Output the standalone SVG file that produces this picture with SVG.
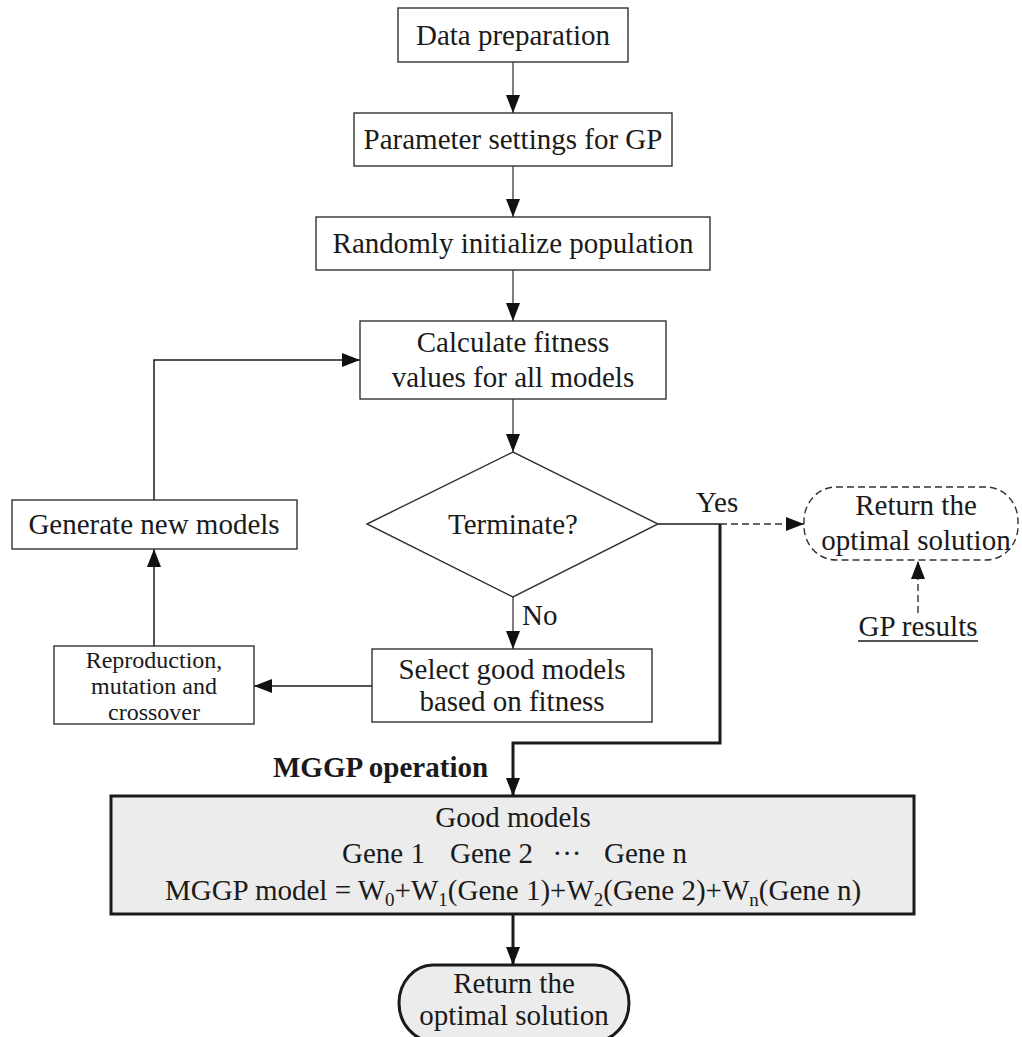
<svg xmlns="http://www.w3.org/2000/svg" width="1022" height="1037" viewBox="0 0 1022 1037">
<style>
text{font-family:"Liberation Serif","Times New Roman",serif;font-size:29px;fill:#1a1a1a;text-anchor:middle}
.box{fill:#fff;stroke:#333;stroke-width:1.4}
.gbox{fill:#ececec;stroke:#1a1a1a;stroke-width:3}
.ln{fill:none;stroke:#555;stroke-width:1.5}
.lk{fill:none;stroke:#1a1a1a;stroke-width:1.5}
.thk{fill:none;stroke:#1a1a1a;stroke-width:3}
.dash{fill:none;stroke:#333;stroke-width:1.4;stroke-dasharray:7 4}
.sm{font-size:24px}
</style>
<defs>
<marker id="ah" markerUnits="userSpaceOnUse" markerWidth="18" markerHeight="14" refX="18" refY="7" orient="auto">
<path d="M0,0 L18,7 L0,14 z" fill="#111"/>
</marker>
</defs>
<g id="connectors">
<path class="ln" d="M513,62 V113" marker-end="url(#ah)"/>
<path class="ln" d="M513,166 V217" marker-end="url(#ah)"/>
<path class="ln" d="M513,270 V321" marker-end="url(#ah)"/>
<path class="ln" d="M513,399 V452" marker-end="url(#ah)"/>
<path class="ln" d="M513,597 V649" marker-end="url(#ah)"/>
<path class="lk" d="M372,686 H254" marker-end="url(#ah)"/>
<path class="lk" d="M154,646 V549" marker-end="url(#ah)"/>
<path class="lk" d="M154,500 V360 H360" marker-end="url(#ah)"/>
<path class="lk" d="M658,524 H720"/>
<path class="dash" d="M720,524 H804" marker-end="url(#ah)"/>
<path class="dash" d="M918,613 V561" marker-end="url(#ah)"/>
<path class="thk" d="M720,524 V743 H513 V796" marker-end="url(#ah)"/>
<path class="thk" d="M513,914 V965" marker-end="url(#ah)"/>
<text x="522" y="625" style="text-anchor:start">No</text>
<text x="696" y="512" style="text-anchor:start">Yes</text>
<text x="273" y="777" style="text-anchor:start;font-weight:bold">MGGP operation</text>
</g>
<g id="data-preparation">
<rect class="box" x="398" y="8" width="230" height="54"/>
<text x="513" y="45">Data preparation</text>
</g>
<g id="parameter-settings">
<rect class="box" x="354" y="113" width="318" height="53"/>
<text x="513" y="149">Parameter settings for GP</text>
</g>
<g id="random-init">
<rect class="box" x="316" y="217" width="394" height="53"/>
<text x="513" y="253">Randomly initialize population</text>
</g>
<g id="calc-fitness">
<rect class="box" x="360" y="321" width="306" height="78"/>
<text x="513" y="352">Calculate fitness</text>
<text x="513" y="387">values for all models</text>
</g>
<g id="terminate">
<path class="box" d="M367,524 L513,452 L658,524 L513,597 Z"/>
<text x="513" y="534">Terminate?</text>
</g>
<g id="generate">
<rect class="box" x="12" y="500" width="285" height="49"/>
<text x="154" y="534">Generate new models</text>
</g>
<g id="reproduction">
<rect class="box" x="54" y="646" width="200" height="78"/>
<text class="sm" x="154" y="668">Reproduction,</text>
<text class="sm" x="154" y="694">mutation and</text>
<text class="sm" x="154" y="720">crossover</text>
</g>
<g id="select">
<rect class="box" x="372" y="649" width="280" height="73"/>
<text x="512" y="679">Select good models</text>
<text x="512" y="711">based on fitness</text>
</g>
<g id="return-gp">
<rect class="dash" x="804" y="487" width="214" height="73" rx="32" ry="34"/>
<text x="916" y="515">Return the</text>
<text x="916" y="550">optimal solution</text>
</g>
<g id="gp-results">
<text x="918" y="636">GP results</text>
<line x1="858" y1="641" x2="978" y2="641" stroke="#1a1a1a" stroke-width="1.4"/>
</g>
<g id="mggp-box">
<rect class="gbox" x="111" y="796" width="803" height="118"/>
<text x="513" y="827">Good models</text>
<text x="342" y="863" style="text-anchor:start">Gene 1</text>
<text x="450" y="863" style="text-anchor:start">Gene 2</text>
<text x="567" y="863">···</text>
<text x="604" y="863" style="text-anchor:start">Gene n</text>
<text x="513" y="900">MGGP model = W<tspan font-size="19" dy="6">0</tspan><tspan dy="-6">+W</tspan><tspan font-size="19" dy="6">1</tspan><tspan dy="-6">(Gene 1)+W</tspan><tspan font-size="19" dy="6">2</tspan><tspan dy="-6">(Gene 2)+W</tspan><tspan font-size="19" dy="6">n</tspan><tspan dy="-6">(Gene n)</tspan></text>
</g>
<g id="return-final">
<rect class="gbox" x="399" y="965" width="230" height="76" rx="34" ry="38"/>
<text x="514" y="993">Return the</text>
<text x="514" y="1025">optimal solution</text>
</g>
</svg>
